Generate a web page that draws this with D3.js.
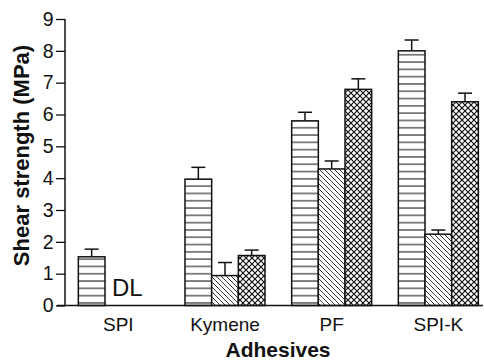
<!DOCTYPE html>
<html><head><meta charset="utf-8">
<script src="https://cdn.jsdelivr.net/npm/d3@7"></script>
<style>body{margin:0;background:#fff}svg{display:block}text{font-family:"Liberation Sans",Arial,sans-serif}</style>
</head><body>
<svg id="c" width="484" height="362"></svg>
<script>
const categories = ["SPI","Kymene","PF","SPI-K"];
const series = ["horizontal","diagonal","cross"];
const horizValues = [1.53, 3.97, 5.80, 8.00];
const horizErr    = [0.24, 0.37, 0.27, 0.34];
const diagValues  = [null, 0.94, 4.29, 2.24];
const diagErr     = [null, 0.41, 0.25, 0.13];
const crossValues = [null, 1.57, 6.79, 6.40];
const crossErr    = [null, 0.17, 0.33, 0.27];
const yTicks = [0,1,2,3,4,5,6,7,8,9];

const svg = d3.select("#c");
const defs = svg.append("defs");
const ph = defs.append("pattern").attr("id","p-horizontal").attr("patternUnits","userSpaceOnUse").attr("width",8).attr("height",7.3);
ph.append("rect").attr("width",8).attr("height",7.3).attr("fill","#fff");
ph.append("line").attr("x1",0).attr("x2",8).attr("y1",3.65).attr("y2",3.65).attr("stroke","#222").attr("stroke-width",1.1);
const pd = defs.append("pattern").attr("id","p-diagonal").attr("patternUnits","userSpaceOnUse").attr("width",5).attr("height",5);
pd.append("rect").attr("width",5).attr("height",5).attr("fill","#fff");
pd.append("path").attr("d","M-1,-1 L6,6 M-1,4 L1,6 M4,-1 L6,1").attr("stroke","#222").attr("stroke-width",0.9);
const pc = defs.append("pattern").attr("id","p-cross").attr("patternUnits","userSpaceOnUse").attr("width",6).attr("height",6);
pc.append("rect").attr("width",6).attr("height",6).attr("fill","#fff");
pc.append("path").attr("d","M0,0 L6,6 M6,0 L0,6").attr("stroke","#111").attr("stroke-width",1.2);

const y = d3.scaleLinear().domain([0,9]).range([305.5,19]);
const x0 = d3.scaleBand().domain(categories).range([65,491.67]).paddingInner(0.25).paddingOuter(0.125);
const x1 = d3.scaleBand().domain(series).range([0,x0.bandwidth()]);

const data = [];
categories.forEach((c,i)=>{
  [[horizValues,horizErr],[diagValues,diagErr],[crossValues,crossErr]].forEach((arr,j)=>{
    if(arr[0][i]!=null) data.push({c, s:series[j], v:arr[0][i], e:arr[1][i]});
  });
});

const g = svg.append("g");
g.selectAll("rect.bar").data(data).enter().append("rect").attr("class","bar")
  .attr("x",d=>x0(d.c)+x1(d.s)).attr("width",x1.bandwidth())
  .attr("y",d=>y(d.v)).attr("height",d=>y(0)-y(d.v))
  .attr("fill",d=>`url(#p-${d.s})`).attr("stroke","#111").attr("stroke-width",1.5);

const cx = d=>x0(d.c)+x1(d.s)+x1.bandwidth()/2;
const eb = g.selectAll("g.err").data(data).enter().append("g").attr("class","err");
eb.append("line").attr("x1",cx).attr("x2",cx)
  .attr("y1",d=>y(d.v)).attr("y2",d=>y(d.v+d.e)).attr("stroke","#111").attr("stroke-width",1.5);
eb.append("line").attr("x1",d=>cx(d)-7).attr("x2",d=>cx(d)+7)
  .attr("y1",d=>y(d.v+d.e)).attr("y2",d=>y(d.v+d.e)).attr("stroke","#111").attr("stroke-width",1.5);

const yAxis = d3.axisLeft(y).tickValues(yTicks).tickSize(9).tickPadding(2.5);
const ya = svg.append("g").attr("transform","translate(65,0)").call(yAxis);
ya.select(".domain").attr("stroke","#111").attr("stroke-width",1.5).attr("d","M0,19V305.5");
ya.selectAll(".tick line").attr("stroke","#111").attr("stroke-width",1.3);
ya.selectAll(".tick text").attr("font-size",19.5).attr("fill","#111").attr("font-family","Liberation Sans, Arial, sans-serif");

const xa = svg.append("g").attr("transform","translate(0,305.5)").call(d3.axisBottom(x0).tickSize(0).tickPadding(12));
xa.select(".domain").attr("stroke","#111").attr("stroke-width",1.5).attr("d","M57,0H483");
xa.selectAll(".tick text").attr("font-size",19).attr("fill","#111").attr("font-family","Liberation Sans, Arial, sans-serif");

svg.append("text").attr("x",x0("SPI")+x1("diagonal")+7).attr("y",296).text("DL")
  .attr("font-size",24).attr("fill","#111");

svg.append("text").attr("transform","translate(29,155.5) rotate(-90)").attr("text-anchor","middle")
  .attr("font-size",22).attr("font-weight","bold").attr("fill","#111").text("Shear strength (MPa)");
svg.append("text").attr("x",278).attr("y",357).attr("text-anchor","middle")
  .attr("font-size",21).attr("font-weight","bold").attr("fill","#111").text("Adhesives");
</script>
</body></html>
